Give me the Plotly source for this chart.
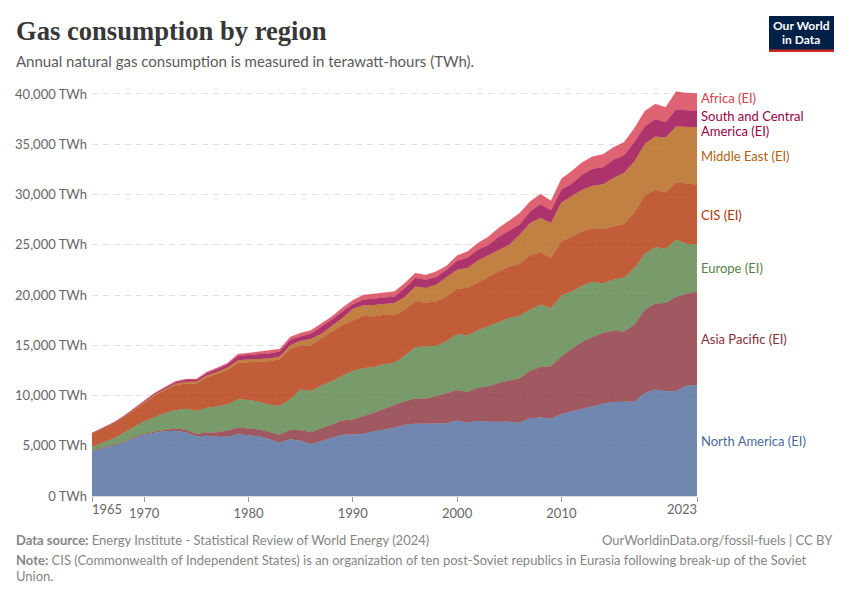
import plotly.graph_objects as go

years = list(range(1965, 2024))

# Upper edge of each band (TWh, stacked from the bottom)
north_america_top = [4450, 4720, 5000, 5280, 5700, 6100, 6300, 6450, 6500, 6350, 5950, 6000, 5900, 5900, 6150, 6050, 5950, 5650, 5300, 5650, 5500, 5150, 5450, 5750, 6100, 6110, 6170, 6440, 6610, 6780, 7080, 7180, 7180, 7180, 7250, 7500, 7280, 7480, 7380, 7380, 7380, 7300, 7730, 7800, 7700, 8170, 8430, 8730, 8990, 9190, 9360, 9360, 9400, 10260, 10590, 10420, 10460, 10980, 11050]
asia_pacific_top = [4500, 4780, 5060, 5350, 5800, 6200, 6430, 6600, 6720, 6600, 6200, 6320, 6350, 6520, 6820, 6720, 6620, 6380, 6100, 6580, 6540, 6340, 6710, 7110, 7500, 7600, 7930, 8270, 8670, 9030, 9420, 9690, 9690, 9920, 10190, 10520, 10360, 10760, 10910, 11250, 11490, 11680, 12470, 12840, 12900, 13890, 14660, 15330, 15830, 16220, 16450, 16380, 17050, 18540, 19160, 19200, 19830, 20130, 20360]
europe_top = [4890, 5290, 5690, 6280, 6840, 7430, 7870, 8270, 8530, 8670, 8470, 8770, 8900, 9130, 9620, 9560, 9390, 9070, 8970, 9620, 10590, 10460, 11010, 11410, 11980, 12450, 12740, 12810, 13140, 13270, 13970, 14790, 14890, 14960, 15390, 16120, 15980, 16480, 16880, 17320, 17710, 17950, 18540, 19040, 18700, 19960, 20360, 20950, 21320, 21150, 21550, 21750, 22680, 24100, 24770, 24600, 25500, 25100, 25000]
cis_top = [6200, 6680, 7170, 7790, 8530, 9310, 9980, 10530, 11020, 11200, 11180, 11790, 12130, 12570, 13230, 13300, 13360, 13400, 13600, 14650, 14950, 14960, 15700, 16350, 17000, 17470, 17940, 17870, 18040, 17980, 18540, 19360, 19230, 19360, 19860, 20620, 20720, 21250, 21800, 22350, 22800, 23110, 23940, 24230, 23680, 25330, 25820, 26320, 26590, 26560, 26820, 27060, 28150, 29900, 30470, 30200, 31230, 31060, 30990]
middle_east_top = [6220, 6710, 7200, 7830, 8580, 9380, 10080, 10650, 11180, 11370, 11360, 12000, 12350, 12790, 13500, 13570, 13640, 13680, 13880, 15000, 15450, 15620, 16150, 16950, 17700, 18600, 18970, 19000, 19130, 19200, 19800, 20850, 20700, 21020, 21790, 22510, 22680, 23440, 23950, 24500, 25000, 25990, 27160, 27650, 27160, 29200, 29800, 30470, 30860, 31030, 31630, 32130, 33280, 35040, 35760, 35660, 36760, 36720, 36690]
south_central_america_top = [6250, 6740, 7240, 7880, 8650, 9460, 10180, 10770, 11320, 11540, 11540, 12220, 12610, 13080, 13950, 14030, 14130, 14190, 14380, 15550, 15880, 16150, 16850, 17550, 18370, 19070, 19530, 19630, 19800, 19860, 20700, 21690, 21520, 21790, 22510, 23400, 23700, 24500, 24950, 25800, 26390, 26990, 28310, 29040, 28410, 30470, 31060, 31960, 32550, 32720, 33450, 33870, 35210, 36760, 37490, 37200, 38450, 38350, 38320]
africa_top = [6280, 6780, 7280, 7930, 8700, 9520, 10250, 10850, 11410, 11650, 11650, 12350, 12750, 13240, 14130, 14230, 14360, 14430, 14630, 15830, 16230, 16480, 17150, 17870, 18730, 19470, 20000, 20130, 20260, 20360, 21200, 22200, 22000, 22350, 22900, 23940, 24340, 25180, 25800, 26700, 27385, 28150, 29300, 30040, 29370, 31560, 32350, 33220, 33780, 34010, 34700, 35210, 36600, 38320, 39010, 38680, 40240, 40110, 40070]

region_names = ["North America (EI)", "Asia Pacific (EI)", "Europe (EI)", "CIS (EI)", "Middle East (EI)", "South and Central America (EI)", "Africa (EI)"]
region_tops = [north_america_top, asia_pacific_top, europe_top, cis_top, middle_east_top, south_central_america_top, africa_top]
region_rgb = ["76,106,156", "136,48,57", "87,129,69", "177,53,7", "177,98,20", "151,0,70", "215,60,80"]
label_texts = ["North America (EI)", "Asia Pacific (EI)", "Europe (EI)", "CIS (EI)", "Middle East (EI)", "South and Central", "America (EI)", "Africa (EI)"]
label_colors = ["#4C6A9C", "#883039", "#578145", "#B13507", "#B16214", "#970046", "#970046", "#D73C50"]
label_y_px = [441, 339, 268, 215, 156, 115.8, 130.6, 98]

y_ticks = [0, 5000, 10000, 15000, 20000, 25000, 30000, 35000, 40000]
y_tick_labels = ["0 TWh", "5,000 TWh", "10,000 TWh", "15,000 TWh", "20,000 TWh", "25,000 TWh", "30,000 TWh", "35,000 TWh", "40,000 TWh"]
x_ticks = [1965, 1970, 1980, 1990, 2000, 2010, 2023]
x_tick_labels = ["", "1970", "1980", "1990", "2000", "2010", ""]

# The page puts the figure 8 px in from its corner, so the figure is 8 px smaller and coordinates are shifted
OFF = 8
W, H = 850 - OFF, 600 - OFF
L, R, T, B = 92 - OFF, 697 - OFF, 89 - OFF, 496.5 - OFF
FONT = "Lato"

fig = go.Figure()
previous = [0] * len(years)
for name, top, rgb in zip(region_names, region_tops, region_rgb):
    values = [t - p for t, p in zip(top, previous)]
    previous = top
    fig.add_trace(go.Scatter(
        x=years, y=values, name=name, mode="lines", stackgroup="one",
        line=dict(color=f"rgba({rgb},0.35)", width=0.5),
        fillcolor=f"rgba({rgb},0.8)", hoverinfo="x+y+name",
    ))


def fx(x):
    return (x - OFF - L) / (R - L)


def fy(y):
    return (B - (y - OFF)) / (B - T)


def txt(x, y, text, color="#5b5b5b", size=13, anchor="left", family=FONT):
    fig.add_annotation(
        xref="paper", yref="paper", x=fx(x), y=fy(y), text=text, showarrow=False,
        xanchor=anchor, yanchor="middle", align=anchor,
        font=dict(color=color, size=size, family=family), borderpad=0, borderwidth=0,
    )


txt(16, 31, "<b>Gas consumption by region</b>", color="#373737", size=26.6, family="Liberation Serif")
txt(16, 61, "Annual natural gas consumption is measured in terawatt-hours (TWh).", size=15, color="#5b5b5b")

for text, color, y in zip(label_texts, label_colors, label_y_px):
    txt(701, y, text, color=color, size=13)

txt(92, 510, "1965", color="#666666", size=13, anchor="left")
txt(697, 510, "2023", color="#666666", size=13, anchor="right")

txt(16, 540.5, "<b>Data source:</b> Energy Institute - Statistical Review of World Energy (2024)", color="#858585", size=13)
txt(833, 540.5, "OurWorldinData.org/fossil-fuels | CC BY", color="#858585", size=13, anchor="right")
txt(16, 561, "<b>Note:</b> CIS (Commonwealth of Independent States) is an organization of ten post-Soviet republics in Eurasia following break-up of the Soviet", color="#858585", size=13)
txt(16, 576.5, "Union.", color="#858585", size=13)

# logo
fig.add_shape(type="rect", xref="paper", yref="paper", x0=fx(769), x1=fx(834), y0=fy(52), y1=fy(16), fillcolor="#002147", line_width=0, layer="above")
fig.add_shape(type="rect", xref="paper", yref="paper", x0=fx(769), x1=fx(834), y0=fy(52), y1=fy(49.5), fillcolor="#CE261E", line_width=0, layer="above")
txt(801.5, 25.5, "<b>Our World</b>", color="#ffffff", size=12, anchor="center")
txt(801.5, 39, "<b>in Data</b>", color="#ffffff", size=12, anchor="center")

fig.update_layout(
    width=W, height=H, autosize=False, showlegend=False,
    paper_bgcolor="white", plot_bgcolor="white",
    margin=dict(l=L, r=W - R, t=T, b=H - B, pad=0),
    font=dict(family=FONT, color="#666666", size=13),
    xaxis=dict(
        automargin=False,
        range=[1965, 2023], tickmode="array", tickvals=x_ticks, ticktext=x_tick_labels,
        showgrid=False, zeroline=False, showline=True, linecolor="#dadada", linewidth=1,
        ticks="outside", ticklen=5, tickcolor="#999999", tickwidth=1,
        tickfont=dict(size=13, color="#666666", family=FONT),
    ),
    yaxis=dict(
        automargin=False,
        range=[0, 40000 * (B - T) / 402.5], tickmode="array", tickvals=y_ticks, ticktext=y_tick_labels,
        showgrid=True, gridcolor="#e0e0e0", griddash="6px,5px", gridwidth=1,
        zeroline=False, showline=False, ticks="", ticklen=0, ticklabelstandoff=4,
        tickfont=dict(size=13, color="#666666", family=FONT),
    ),
)
fig.write_html("out.html")
